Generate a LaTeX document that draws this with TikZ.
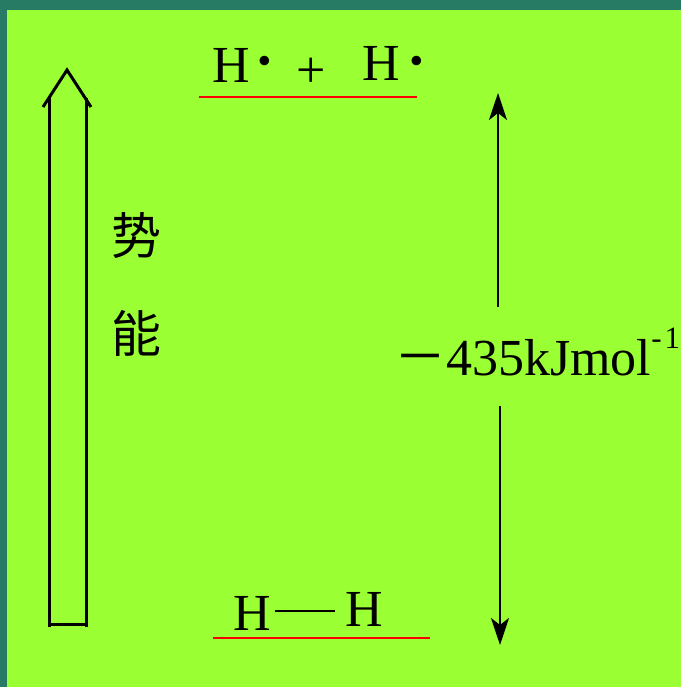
\documentclass[tikz,border=0pt]{standalone}
\usepackage{fontspec}
\setmainfont{Liberation Serif}
\newfontfamily\cjk{Noto Sans CJK SC}
\usetikzlibrary{arrows.meta}
\definecolor{frame}{HTML}{277A63}
\definecolor{board}{HTML}{9AFF33}

\begin{document}
\begin{tikzpicture}[x=1pt,y=-1pt,>={Stealth[length=27pt,width=18pt,inset=7pt]},
  big/.style={font=\fontsize{52}{60}\selectfont,inner sep=0pt},
  radical/.style={font=\fontsize{80}{80}\selectfont,inner sep=0pt},
  hanzi/.style={font=\fontsize{50}{60}\selectfont\cjk,inner sep=0pt},
  level/.style={red,line width=2.8pt},
  hollow/.style={line width=3pt},
  bond/.style={line width=2.6pt},
  gap/.style={line width=2.5pt}]
\useasboundingbox (0,0) rectangle (681,687);
\fill[frame] (0,0) rectangle (681,687);
\fill[board] (7,10) rectangle (681,687);
\draw[hollow] (43,107) -- (67,70) -- (91,107);
\draw[hollow] (49,98) -- (49,627);
\draw[hollow] (86,98) -- (86,627);
\draw[hollow] (49,624) -- (86,624);
\node[hanzi] (shi) at (136,236) {势};
\node[hanzi] (neng) at (136,333) {能};
\node[big,anchor=base west] (h1) at (212,83) {H};
\node[radical,anchor=base] (d1) at (265,88) {·};
\node[big,anchor=base west] (plus) at (296,88) {+};
\node[big,anchor=base west] (h2) at (362,81) {H};
\node[radical,anchor=base] (d2) at (417,88) {·};
\draw[level] (199,97) -- (417,97);
\node[big,anchor=base west] (h3) at (233,630) {H};
\node[big,anchor=base west] (h4) at (345,626) {H};
\draw[bond] ([xshift=4pt,yshift=2pt]h3.east) -- ([xshift=-10pt,yshift=-2pt]h4.west);
\draw[level] (213,638) -- (430,638);
\node[big,anchor=base west] (de) at (394,375) {{\cjk －}435kJmol\raisebox{27pt}{\fontsize{31}{31}\selectfont -\kern3pt 1}};
\coordinate (etop) at (498,93);
\coordinate (ebot) at (500,645);
\draw[gap,->] ([yshift=20pt]de.north -| etop) -- (etop);
\draw[gap,->] ([yshift=-30pt]de.south -| ebot) -- (ebot);
\end{tikzpicture}
\end{document}
